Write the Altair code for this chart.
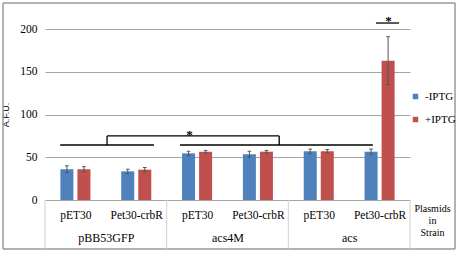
import altair as alt
import pandas as pd

groups = ["pBB53GFP", "acs4M", "acs"]
plasmids = ["pET30", "Pet30-crbR"]
series = ["-IPTG", "+IPTG"]
minus_iptg = [36, 33.5, 54.5, 53.5, 57, 56.5]
plus_iptg = [36, 35.5, 56.5, 56.5, 57, 163]
minus_err = [4, 2.5, 2.5, 3.5, 2.5, 3]
plus_err = [3, 2.5, 1.5, 1.5, 2, 28]
colors = ["#4F81BD", "#C0504D"]
serif = "Liberation Serif"

# significance brackets (x in category units, y in A.F.U.)
h_x = [0.25, 2.22, 1.02, 5.44]
h_x2 = [1.79, 5.39, 3.85, 5.82]
h_y = [64.3, 64.3, 74.9, 207]
v_x = [1.02, 3.85]
v_y = [64.3, 64.3]
v_y2 = [74.9, 74.9]
star_x = [2.37, 5.64]
star_y = [77, 211]
group_x = [1, 3, 5]
sub_x = [0.5, 1.5, 2.5, 3.5, 4.5, 5.5]

BW = 0.214  # bar width in category units
GAP = 0.033

rows = []


def add(kind, xa, ya, xb=None, yb=None, series_=None):
    rows.append(dict(kind=kind, xa=xa, xb=xb, ya=ya, yb=yb, series=series_))


for i in range(6):
    for s, vals, errs in ((0, minus_iptg, minus_err), (1, plus_iptg, plus_err)):
        if s == 0:
            x0, x1 = i + 0.5 - GAP - BW, i + 0.5 - GAP
        else:
            x0, x1 = i + 0.5 + GAP, i + 0.5 + GAP + BW
        xc = (x0 + x1) / 2
        v, e = vals[i], errs[i]
        add("bar", x0, v, x1, 0, series[s])
        add("err", xc, v - e, None, v + e)
        add("cap", xc - 0.03, v + e, xc + 0.03)
        add("cap", xc - 0.03, v - e, xc + 0.03)

for a, b, y in zip(h_x, h_x2, h_y):
    add("hbr", a, y, b)
for a, y, y2 in zip(v_x, v_y, v_y2):
    add("vbr", a, y, None, y2)
for sx, sy in zip(star_x, star_y):
    add("star", sx, sy)
for gx in group_x:
    add("grp", gx, 0)

# category table under the plot (below zero on the A.F.U. scale)
for sx in [0, 2, 4, 6]:
    add("sep", sx, 0, None, -57.3)
# outer frame
add("frh", -0.69, 230.4, 6.74)
add("frh", -0.69, -57.3, 6.74)
add("frv", -0.69, 230.4, None, -57.3)
add("frv", 6.74, 230.4, None, -57.3)

df = pd.DataFrame(rows)

xs = alt.Scale(domain=[0, 6], nice=False, zero=False)
ys = alt.Scale(domain=[0, 200], nice=False)

base = alt.Chart(df)

sub_expr = f"floor(datum.value) % 2 == 0 ? '{plasmids[0]}' : '{plasmids[1]}'"
grp_expr = (f"datum.value < 2 ? '{groups[0]}' : "
            f"(datum.value < 4 ? '{groups[1]}' : '{groups[2]}')")

bars = base.transform_filter(alt.datum.kind == "bar").mark_bar().encode(
    x=alt.X("xa:Q", scale=xs,
            axis=alt.Axis(orient="bottom", values=sub_x, labelExpr=sub_expr, grid=False,
                          domain=False, ticks=False, labelFont=serif, labelFontSize=11.5,
                          labelColor="black", labelPadding=9, labelFlush=False,
                          labelOverlap=False, title=None)),
    x2="xb:Q",
    y=alt.Y("ya:Q", scale=ys,
            axis=alt.Axis(orient="left", values=[0, 50, 100, 150, 200], grid=True,
                          gridColor="#a6a6a6", domain=False, ticks=False, labelFont=serif,
                          labelFontSize=11.5, labelColor="black", labelPadding=8,
                          title="A.F.U.", titleFont="Liberation Sans", titleFontSize=9,
                          titleFontWeight="normal", titleColor="black", titleX=-35)),
    y2="yb:Q",
    color=alt.Color("series:N", scale=alt.Scale(domain=series, range=colors),
                    legend=alt.Legend(orient="none", legendX=365, legendY=62, title=None,
                                      symbolType="square", symbolSize=30,
                                      labelFont=serif, labelFontSize=11, labelColor="black",
                                      rowPadding=11)),
)


def vrule(kind, color, sw):
    return base.transform_filter(alt.datum.kind == kind).mark_rule(color=color, strokeWidth=sw).encode(
        x=alt.X("xa:Q", axis=None), y=alt.Y("ya:Q", axis=None), y2="yb:Q")


def hrule(kind, color, sw):
    return base.transform_filter(alt.datum.kind == kind).mark_rule(color=color, strokeWidth=sw).encode(
        x=alt.X("xa:Q", axis=None), x2="xb:Q", y=alt.Y("ya:Q", axis=None))


# group names row and "Plasmids in Strain" cell, drawn by an axis
grp_layer = base.transform_filter(alt.datum.kind == "grp").mark_point(opacity=0, size=1).encode(
    x=alt.X("xa:Q",
            axis=alt.Axis(orient="bottom", values=group_x, labelExpr=grp_expr, grid=False,
                          domain=False, ticks=False, labelFont=serif, labelFontSize=12,
                          labelColor="black", labelPadding=32, labelFlush=False,
                          labelOverlap=False,
                          title=["Plasmids", "in", "Strain"], titleFont=serif,
                          titleFontSize=10, titleFontWeight="normal", titleColor="black",
                          titleX=387, titleY=3, titleBaseline="top", titleAlign="center",
                          titleAngle=0, titleLineHeight=12)),
    y=alt.Y("ya:Q", axis=None),
)

# significance stars, drawn as axis labels
star_top = base.transform_filter(alt.datum.kind == "star").mark_point(opacity=0, size=1).encode(
    x=alt.X("xa:Q",
            axis=alt.Axis(orient="top", values=[star_x[1]], labelExpr="'*'", grid=False,
                          domain=False, ticks=False, labelFont=serif, labelFontSize=13,
                          labelFontWeight="bold", labelColor="black", labelPadding=2,
                          labelFlush=False, labelOverlap=False, title=None)),
    y=alt.Y("ya:Q", axis=None),
)
star_mid = base.transform_filter(alt.datum.kind == "star").mark_point(opacity=0, size=1).encode(
    x=alt.X("xa:Q", axis=None),
    y=alt.Y("ya:Q",
            axis=alt.Axis(orient="left", values=[star_y[0]], labelExpr="'*'", grid=False,
                          domain=False, ticks=False, labelFont=serif, labelFontSize=13,
                          labelFontWeight="bold", labelColor="black", labelPadding=0,
                          labelAlign="center", labelBaseline="middle", labelFlush=False,
                          labelOverlap=False, offset=-144, title=None)),
)

chart = alt.layer(
    bars,
    hrule("frh", "#999999", 1.5), vrule("frv", "#999999", 1.5), vrule("sep", "#d0d0d0", 1),
    vrule("err", "#555555", 1), hrule("cap", "#555555", 1),
    hrule("hbr", "black", 1.3), vrule("vbr", "black", 1.3),
    grp_layer, star_top, star_mid,
).resolve_axis(x="independent", y="independent").properties(
    width=365, height=171,
    autosize=alt.AutoSizeParams(type="none"),
    padding={"left": 45, "top": 29, "right": 49, "bottom": 54},
    background="white",
).configure_view(strokeWidth=0)

chart.save("out.html", embed_options={"renderer": "svg", "actions": False})
